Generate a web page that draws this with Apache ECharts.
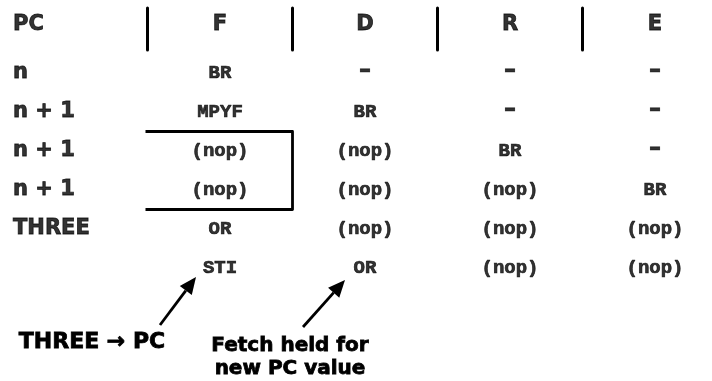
<!DOCTYPE html>
<html>
<head>
<meta charset="utf-8">
<script src="https://cdn.jsdelivr.net/npm/echarts@6/dist/echarts.min.js"></script>
<style>html,body{margin:0;padding:0;background:#fff;}#chart{width:712px;height:381px;}</style>
</head>
<body>
<div id="chart"></div>
<script>
// ---- data ----
const columns = ['PC', 'F', 'D', 'R', 'E'];
const rows = ['header', 'n', 'n + 1', 'n + 1 ', 'n + 1  ', 'THREE', 'next'];
const headers = ['PC', 'F', 'D', 'R', 'E'];
const rowLabels = ['n', 'n + 1', 'n + 1', 'n + 1', 'THREE', ''];
const stageF = ['BR', 'MPYF', '(nop)', '(nop)', 'OR', 'STI'];
const stageD = ['–', 'BR', '(nop)', '(nop)', '(nop)', 'OR'];
const stageR = ['–', '–', 'BR', '(nop)', '(nop)', '(nop)'];
const stageE = ['–', '–', '–', 'BR', '(nop)', '(nop)'];
const dividers = [1, 2, 3, 4];          // columns with a divider on their left edge
const stallBox = [[1, 3, 4]];           // column F, rows 3..4 boxed
const notes = [
  [1, 6, 'THREE → PC'],
  [2, 6, 'Fetch held for\nnew PC value']
];

const SANS = '"DejaVu Sans", sans-serif';
const MONO = '"Liberation Mono", monospace';
const INK = '#000';

function cellSeries(colIdx, values) {
  return {
    type: 'scatter', silent: true, symbolSize: 1,
    itemStyle: { color: 'rgba(0,0,0,0)' },
    data: values.map((t, i) => ({
      value: [colIdx, i + 1, t],
      label: t === '–' ? { fontFamily: SANS, fontSize: 24, offset: [0, -2] } : {}
    })),
    label: {
      show: true, position: 'inside', formatter: p => p.value[2],
      fontFamily: MONO, fontWeight: 'bold', fontSize: 19, color: INK,
      textBorderColor: INK, textBorderWidth: 0.7
    }
  };
}

const chart = echarts.init(document.getElementById('chart'), null, { renderer: 'canvas' });
chart.setOption({
  backgroundColor: '#fff',
  animation: false,
  grid: { left: 9.75, top: 14.5, width: 696, height: 273 },
  xAxis: { type: 'value', min: -0.45, max: 4.35, show: false },
  yAxis: { type: 'category', data: rows, show: false, inverse: true, boundaryGap: true },
  series: [
    // header row
    {
      type: 'scatter', silent: true, symbolSize: 1,
      itemStyle: { color: 'rgba(0,0,0,0)' },
      data: headers.map((h, i) => ({
        value: [i, 0, h],
        label: i === 0 ? { align: 'left', offset: [-62, -9] } : {}
      })),
      label: {
        show: true, position: 'inside', formatter: p => p.value[2], offset: [0, -9],
        fontFamily: SANS, fontWeight: 'bold', fontSize: 21, color: INK,
        textBorderColor: INK, textBorderWidth: 0.8
      }
    },
    // PC row labels
    {
      type: 'scatter', silent: true, symbolSize: 1,
      itemStyle: { color: 'rgba(0,0,0,0)' },
      data: rowLabels.map((t, i) => [0, i + 1, t]),
      label: {
        show: true, position: 'inside', align: 'left', offset: [-62, 0],
        formatter: p => p.value[2],
        fontFamily: SANS, fontWeight: 'bold', fontSize: 21, color: INK,
        textBorderColor: INK, textBorderWidth: 0.8
      }
    },
    cellSeries(1, stageF),
    cellSeries(2, stageD),
    cellSeries(3, stageR),
    cellSeries(4, stageE),
    // header dividers
    {
      type: 'custom', silent: true,
      data: dividers.map(c => [c, 0]),
      renderItem: (params, api) => {
        const p = api.coord([api.value(0), api.value(1)]);
        const bw = api.size([1, 1]);
        const x = p[0] - bw[0] / 2;
        return {
          type: 'line',
          shape: { x1: x, y1: p[1] - 26, x2: x, y2: p[1] + 16 },
          style: { stroke: INK, lineWidth: 3, lineCap: 'round' }
        };
      }
    },
    // stall box
    {
      type: 'custom', silent: true,
      data: stallBox,
      renderItem: (params, api) => {
        const a = api.coord([api.value(0), api.value(1)]);
        const b = api.coord([api.value(0), api.value(2)]);
        const bw = api.size([1, 1]);
        const left = a[0] - bw[0] / 2 - 2, right = a[0] + bw[0] / 2;
        const top = a[1] - bw[1] / 2, bottom = b[1] + bw[1] / 2;
        return {
          type: 'polyline',
          shape: { points: [[left, top], [right, top], [right, bottom], [left, bottom]] },
          style: { stroke: INK, lineWidth: 2.8, fill: null, lineJoin: 'round' }
        };
      }
    },
    // annotations with arrows
    {
      type: 'custom', silent: true,
      data: notes,
      renderItem: (params, api) => {
        const p = api.coord([api.value(0), api.value(1)]);
        const i = params.dataIndex;
        const text = notes[i][2];
        const geo = i === 0
          ? { tip: [-24, 9], tail: [-60, 57], tx: -128, ty: 74 }
          : { tip: [-20, 12], tail: [-62, 59], tx: -75, ty: 89 };
        const tip = [p[0] + geo.tip[0], p[1] + geo.tip[1]];
        const tail = [p[0] + geo.tail[0], p[1] + geo.tail[1]];
        const dx = tip[0] - tail[0], dy = tip[1] - tail[1];
        const len = Math.sqrt(dx * dx + dy * dy);
        const ux = dx / len, uy = dy / len;
        const hl = 17, hw = 7.5;
        const base = [tip[0] - ux * hl, tip[1] - uy * hl];
        const nx = -uy, ny = ux;
        return {
          type: 'group',
          children: [
            {
              type: 'line',
              shape: { x1: tail[0], y1: tail[1], x2: base[0], y2: base[1] },
              style: { stroke: INK, lineWidth: 2.8 }
            },
            {
              type: 'polygon',
              shape: { points: [tip, [base[0] + nx * hw, base[1] + ny * hw], [base[0] - nx * hw, base[1] - ny * hw]] },
              style: { fill: INK }
            },
            {
              type: 'text',
              x: p[0] + geo.tx, y: p[1] + geo.ty,
              style: {
                text: text, align: 'center', verticalAlign: 'middle',
                font: 'bold ' + (i === 0 ? 22 : 20) + 'px ' + SANS, fill: INK, lineHeight: 23,
                stroke: INK, lineWidth: 0.8
              }
            }
          ]
        };
      }
    }
  ]
});
</script>
</body>
</html>
